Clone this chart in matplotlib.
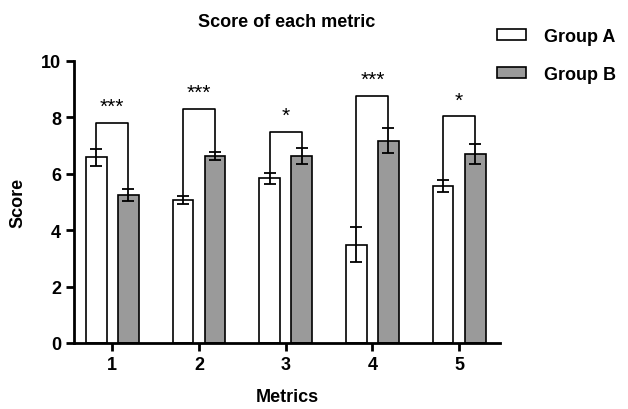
import numpy as np
import matplotlib.pyplot as plt

metrics = [1, 2, 3, 4, 5]
group_a = [6.58, 5.08, 5.84, 3.49, 5.57]
group_a_err = [0.29, 0.14, 0.19, 0.61, 0.21]
group_b = [5.26, 6.63, 6.63, 7.17, 6.70]
group_b_err = [0.21, 0.13, 0.27, 0.44, 0.37]
bracket_y = [7.80, 8.29, 7.48, 8.77, 8.03]
stars = ['***', '***', '*', '***', '*']

plt.rcParams['font.family'] = ['Arial', 'Liberation Sans', 'DejaVu Sans']

fig = plt.figure(figsize=(6.28, 4.10), dpi=100)
ax = fig.add_axes([0.118, 0.161, 0.678, 0.688])

x = np.array(metrics, dtype=float)
off = 0.185
w = 0.24
ekw = dict(elinewidth=1.3, capthick=1.3, ecolor='black')
ax.bar(x - off, group_a, w, yerr=group_a_err, capsize=4, color='white',
       edgecolor='black', linewidth=1.2, error_kw=ekw, label='Group A')
ax.bar(x + off, group_b, w, yerr=group_b_err, capsize=4, color='#9a9a9a',
       edgecolor='black', linewidth=1.2, error_kw=ekw, label='Group B')

for i in range(len(metrics)):
    xa = x[i] - off
    xb = x[i] + off
    ya = group_a[i] + group_a_err[i] + 0.03
    yb = group_b[i] + group_b_err[i] + 0.03
    top = bracket_y[i]
    ax.plot([xa, xa, xb, xb], [ya, top, top, yb], color='black', lw=1.2)
    ax.text(x[i], top + 0.25, stars[i], ha='center', va='bottom', fontsize=15)

ax.set_xlim(0.56, 5.47)
ax.set_ylim(0, 10)
ax.set_xticks(metrics)
ax.set_yticks([0, 2, 4, 6, 8, 10])
ax.spines['top'].set_visible(False)
ax.spines['right'].set_visible(False)
ax.spines['left'].set_linewidth(2)
ax.spines['bottom'].set_linewidth(2)
ax.tick_params(width=2, length=6)
for lab in ax.get_xticklabels() + ax.get_yticklabels():
    lab.set_fontweight('bold')
    lab.set_fontsize(13)

ax.set_title('Score of each metric', fontsize=13, fontweight='bold', pad=25)
ax.set_xlabel('Metrics', fontsize=13, fontweight='bold', labelpad=11)
ax.set_ylabel('Score', fontsize=13, fontweight='bold', labelpad=10)

fig.legend(loc='upper left', bbox_to_anchor=(0.766, 0.97), frameon=False,
           prop={'weight': 'bold', 'size': 13}, handlelength=1.6,
           handleheight=0.55, labelspacing=1.2, handletextpad=1.0)

fig.savefig('out.png', dpi=100)
